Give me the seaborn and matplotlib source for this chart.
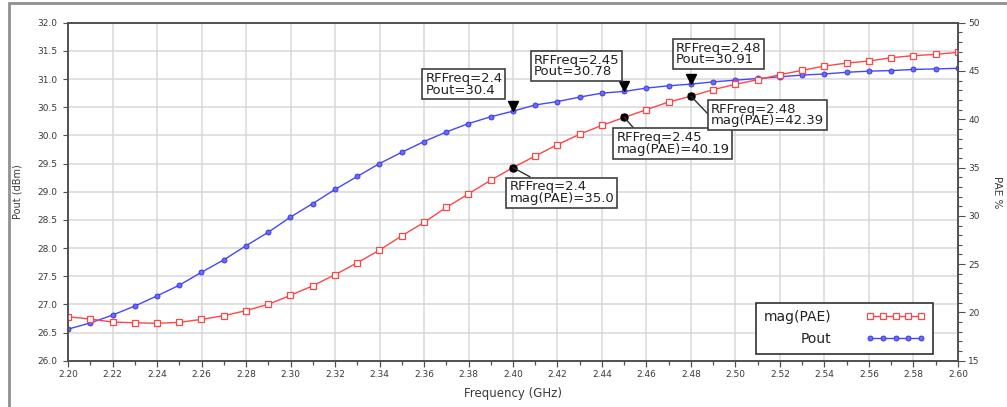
import matplotlib
matplotlib.use("Agg")
import matplotlib.pyplot as plt
import seaborn as sns
from matplotlib.ticker import MultipleLocator, FormatStrFormatter
from matplotlib.patches import Rectangle
from matplotlib.transforms import offset_copy

# ---------------- data ----------------
freq = [2.20, 2.21, 2.22, 2.23, 2.24, 2.25, 2.26, 2.27, 2.28, 2.29,
        2.30, 2.31, 2.32, 2.33, 2.34, 2.35, 2.36, 2.37, 2.38, 2.39,
        2.40, 2.41, 2.42, 2.43, 2.44, 2.45, 2.46, 2.47, 2.48, 2.49,
        2.50, 2.51, 2.52, 2.53, 2.54, 2.55, 2.56, 2.57, 2.58, 2.59, 2.60]
pout = [26.56, 26.67, 26.81, 26.97, 27.15, 27.34, 27.57, 27.79, 28.04, 28.28,
        28.55, 28.79, 29.04, 29.27, 29.50, 29.70, 29.89, 30.06, 30.21, 30.33,
        30.43, 30.54, 30.60, 30.68, 30.75, 30.78, 30.84, 30.88, 30.91, 30.95,
        30.98, 31.01, 31.04, 31.07, 31.09, 31.12, 31.14, 31.15, 31.17, 31.18, 31.19]
pae = [19.55, 19.32, 19.00, 18.93, 18.87, 18.97, 19.28, 19.66, 20.18, 20.84,
       21.77, 22.76, 23.90, 25.14, 26.45, 27.93, 29.32, 30.87, 32.28, 33.69,
       35.00, 36.20, 37.38, 38.45, 39.38, 40.19, 41.00, 41.79, 42.39, 43.07,
       43.62, 44.10, 44.62, 45.07, 45.51, 45.82, 46.03, 46.38, 46.59, 46.72, 46.93]
marker_freqs = [2.40, 2.45, 2.48]
pout_labels = ["RFFreq=2.4\nPout=30.4", "RFFreq=2.45\nPout=30.78", "RFFreq=2.48\nPout=30.91"]
pae_labels = ["RFFreq=2.4\nmag(PAE)=35.0", "RFFreq=2.45\nmag(PAE)=40.19", "RFFreq=2.48\nmag(PAE)=42.39"]
series_names = ["mag(PAE)", "Pout"]

# ---------------- style ----------------
sns.set_style("white")
plt.rcParams["font.family"] = ["DejaVu Sans"]

RED = "#ff4646"
BLUE = "#4646ff"
TXT = "#3a3a3a"

W, H = 1007, 407
fig = plt.figure(figsize=(W / 100, H / 100), dpi=100)
ax = fig.add_axes([68 / W, 1 - 360.7 / H, 890 / W, 338 / H])
ax2 = ax.twinx()

# outer frame of the screenshot
fig.add_artist(Rectangle((8.7 / W, -0.05), 1.2, 1 - 3.3 / H + 0.05,
                         transform=fig.transFigure, fill=False,
                         edgecolor="#909090", linewidth=2))

# ---------------- lines ----------------
sns.lineplot(x=freq, y=pout, ax=ax, color=BLUE, linewidth=1.0, marker="o",
             markersize=3.6, markerfacecolor="#6a6aff", markeredgecolor="#3030e0",
             markeredgewidth=0.6, errorbar=None, sort=False, label=series_names[1])
sns.lineplot(x=freq, y=pae, ax=ax2, color=RED, linewidth=1.0, marker="s",
             markersize=3.8, markerfacecolor="white", markeredgecolor=RED,
             markeredgewidth=0.9, errorbar=None, sort=False, label=series_names[0])
for a in (ax, ax2):
    lg = a.get_legend()
    if lg is not None:
        lg.remove()

# ---------------- axes ----------------
ax.set_xlim(2.20, 2.60)
ax.set_ylim(26.0, 32.0)
ax2.set_ylim(15, 50)
ax.xaxis.set_major_locator(MultipleLocator(0.02))
ax.xaxis.set_minor_locator(MultipleLocator(0.01))
ax.xaxis.set_major_formatter(FormatStrFormatter("%.2f"))
ax.yaxis.set_major_locator(MultipleLocator(0.5))
ax.yaxis.set_major_formatter(FormatStrFormatter("%.1f"))
ax2.yaxis.set_major_locator(MultipleLocator(5))
ax2.yaxis.set_minor_locator(MultipleLocator(1))
ax2.yaxis.set_major_formatter(FormatStrFormatter("%d"))

ax.set_axisbelow(True)
ax.grid(True, which="major", axis="both", color="#d9d9d9", linewidth=1.1)
ax2.grid(False)

for a in (ax, ax2):
    for s in a.spines.values():
        s.set_color("#505050")
        s.set_linewidth(1.2)

ax.tick_params(axis="y", which="major", direction="out", length=3.5, width=0.8,
               color="#505050", labelcolor=TXT, labelsize=6.5, pad=4,
               left=True, right=False)
ax.tick_params(axis="x", which="major", direction="out", length=4, width=0.9,
               color="#505050", labelcolor=TXT, labelsize=6.5, pad=3,
               bottom=True, top=False)
ax.tick_params(axis="x", which="minor", direction="out", length=3, width=0.9,
               color="#505050", bottom=True, top=False)
ax2.tick_params(axis="y", which="major", direction="out", length=5, width=0.8,
                color="#505050", labelcolor=TXT, labelsize=6.5, pad=2.5,
                right=True, left=False)
ax2.tick_params(axis="y", which="minor", direction="out", length=3, width=0.8,
                color="#505050", right=True, left=False)

ax.set_xlabel("Frequency (GHz)", fontsize=8.5, color=TXT)
ax.xaxis.set_label_coords(0.5, -0.0985)
ax.xaxis.label.set_va("center")
ax.set_ylabel("Pout (dBm)", fontsize=7, color=TXT)
ax.yaxis.set_label_coords(-0.0567, 0.5)
ax.yaxis.label.set_va("center")
ax2.set_ylabel("PAE %", fontsize=7.5, color=TXT, rotation=-90)
ax2.yaxis.set_label_coords(1.0433, 0.5)
ax2.yaxis.label.set_va("center")
ax2.yaxis.label.set_ha("center")

# ---------------- markers & annotations ----------------
idx = [freq.index(f) for f in marker_freqs]
tri_trans = offset_copy(ax.transData, fig=fig, x=0, y=5.2, units="dots")
ax.plot([freq[i] for i in idx], [pout[i] for i in idx], linestyle="none",
        marker="v", markersize=7.5, color="black", transform=tri_trans, zorder=6)
ax2.plot([freq[i] for i in idx], [pae[i] for i in idx], linestyle="none",
         marker="o", markersize=5, color="black", zorder=7)

box = dict(boxstyle="square,pad=0.22", facecolor="white", edgecolor="#404040", linewidth=1.2)
pout_offsets = [(-87.7, 14.6), (-90.4, 13.2), (-15.4, 17.9)]
for i, lab, off in zip(idx, pout_labels, pout_offsets):
    ax2.annotate(lab, xy=(freq[i], pout[i]), xycoords=ax.transData,
                 xytext=off, textcoords="offset pixels", ha="left", va="bottom",
                 fontsize=9.5, color="#222222", linespacing=0.85, bbox=box, zorder=10)

pae_offsets = [(-3.7, -12.9), (-8.0, -13.9), (20.2, -6.5)]
pae_relpos = [(0.26, 1.0), (0.18, 1.0), (0.0, 0.4)]
for i, lab, off, rp in zip(idx, pae_labels, pae_offsets, pae_relpos):
    ax2.annotate(lab, xy=(freq[i], pae[i]), xycoords="data",
                 xytext=off, textcoords="offset pixels", ha="left", va="top",
                 fontsize=9.5, color="#222222", linespacing=0.85, bbox=box, zorder=10,
                 arrowprops=dict(arrowstyle="-", color="#303030", linewidth=1.0,
                                 shrinkA=0, shrinkB=0, relpos=rp))

# ---------------- legend ----------------
handles = [ax2.get_lines()[0], ax.get_lines()[0]]
leg = ax2.legend(handles, series_names, loc="upper left",
                 bbox_to_anchor=(755.7 / W, 1 - 302.7 / H), bbox_transform=fig.transFigure,
                 borderaxespad=0, markerfirst=False, numpoints=5, handlelength=4.3,
                 handletextpad=2.5, borderpad=0.55, labelspacing=0.55, fontsize=10,
                 frameon=True, fancybox=False, edgecolor="#303030", framealpha=1)
leg.get_frame().set_linewidth(1.2)
leg.set_zorder(20)
for t in leg.get_texts():
    t.set_color("#222222")

fig.savefig("out.png", dpi=100)
